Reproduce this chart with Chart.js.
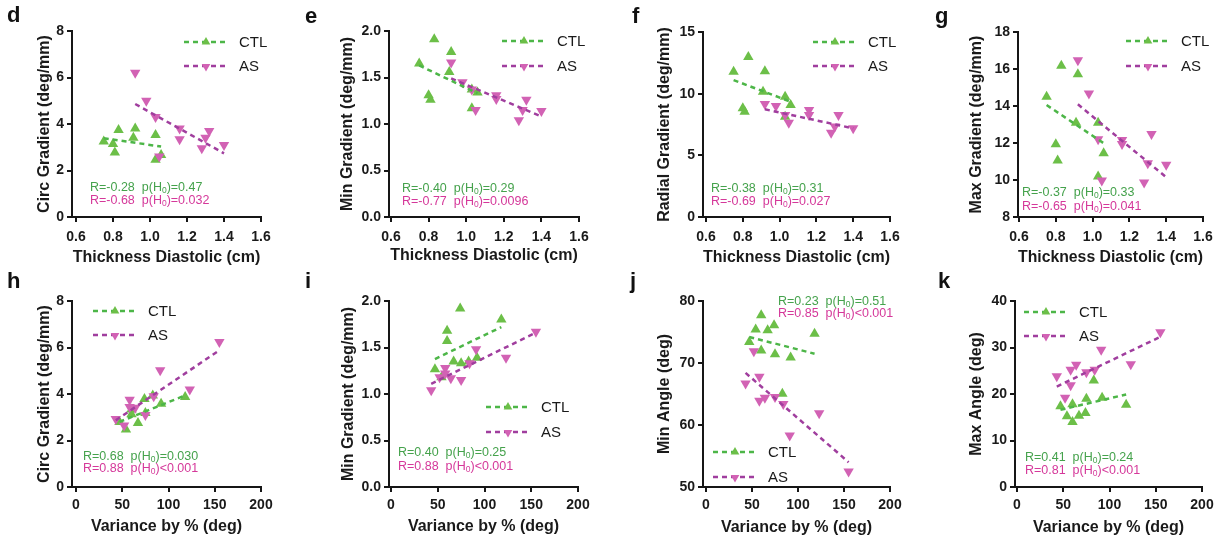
<!DOCTYPE html>
<html><head><meta charset="utf-8">
<script src="https://cdn.jsdelivr.net/npm/chart.js@4.4.1/dist/chart.umd.min.js"></script>
<style>
html,body{margin:0;padding:0;background:#fff;}
#wrap{position:relative;width:1221px;height:542px;overflow:hidden;background:#fff;}
#wrap canvas{position:absolute;}
.lbl{position:absolute;font:bold 22px "Liberation Sans",Arial,sans-serif;line-height:22px;color:#111;}
</style></head><body><div id="wrap"></div>
<script>
// ---------- tick labels ----------
const thicknessTicks = [0.6, 0.8, 1.0, 1.2, 1.4, 1.6];
const varianceTicks = [0, 50, 100, 150, 200];
const circTicks = [0, 2, 4, 6, 8];
const minGradTicks = [0, 0.5, 1.0, 1.5, 2.0];
const radialTicks = [0, 5, 10, 15];
const maxGradTicks = [8, 10, 12, 14, 16, 18];
const minAngleTicks = [50, 60, 70, 80];
const maxAngleTicks = [0, 10, 20, 30, 40];

// ---------- x values ----------
const thicknessCTL = [0.75, 0.80, 0.81, 0.83, 0.91, 0.92, 1.03, 1.03, 1.06];
const thicknessAS = [0.92, 0.98, 1.03, 1.05, 1.16, 1.16, 1.28, 1.30, 1.32, 1.40];
const varianceCTL = [47, 54, 60, 60, 67, 74, 75, 83, 92, 118];
const varianceAS = [43, 52, 58, 58, 64, 75, 84, 91, 123, 155];

// ---------- y values (top row: vs thickness) ----------
const circCTL_d = [3.25, 3.14, 2.77, 3.74, 3.41, 3.81, 3.53, 2.46, 2.67];
const circAS_d = [6.2, 5.0, 4.3, 2.6, 3.81, 3.34, 2.96, 3.41, 3.7, 3.1];
const minGradCTL_e = [1.65, 1.31, 1.26, 1.91, 1.56, 1.775, 1.37, 1.17, 1.34];
const minGradAS_e = [1.66, 1.45, 1.37, 1.15, 1.31, 1.27, 1.04, 1.15, 1.26, 1.14];
const radialCTL_f = [11.77, 8.81, 8.54, 12.98, 10.15, 11.82, 9.75, 8.13, 9.08];
const radialAS_f = [9.16, 9.0, 8.27, 7.65, 8.67, 8.27, 6.84, 7.33, 8.27, 7.19];
const maxGradCTL_g = [14.5, 11.93, 11.05, 16.17, 13.1, 15.72, 13.1, 10.19, 11.45];
const maxGradAS_g = [16.47, 14.68, 12.2, 9.97, 12.16, 11.95, 9.87, 10.9, 12.49, 10.82];

// ---------- y values (bottom row: vs variance) ----------
const circCTL_h = [2.8, 2.47, 3.33, 3.13, 2.75, 3.78, 3.18, 3.94, 3.58, 3.87];
const circAS_h = [2.92, 2.65, 3.75, 3.44, 3.41, 3.1, 3.9, 5.02, 4.19, 6.24];
const minGradCTL_i = [1.265, 1.18, 1.68, 1.57, 1.35, 1.92, 1.33, 1.35, 1.39, 1.80];
const minGradAS_i = [1.04, 1.18, 1.28, 1.22, 1.17, 1.15, 1.33, 1.48, 1.39, 1.67];
const minAngleCTL_j = [73.4, 75.4, 77.7, 72.0, 75.3, 76.1, 71.4, 65.05, 70.9, 74.7];
const minAngleAS_j = [66.7, 71.9, 67.8, 63.9, 64.4, 64.5, 63.4, 58.3, 61.9, 52.5];
const maxAngleCTL_k = [17.35, 15.2, 17.8, 14.0, 15.3, 15.9, 19.0, 22.9, 19.2, 17.7];
const maxAngleAS_k = [23.8, 19.2, 21.9, 25.2, 26.3, 24.7, 25.2, 29.5, 26.4, 33.3];

// ---------- fitted trend line end points ----------
const fitThickCTL = [0.75, 1.06];
const fitThickAS = [0.92, 1.40];
const fitVarCTL = [47, 118];
const fitVarAS = [43, 155];
const fitCTL_d = [3.39, 3.03];   const fitAS_d = [4.86, 2.74];
const fitCTL_e = [1.63, 1.33];   const fitAS_e = [1.49, 1.08];
const fitCTL_f = [11.1, 9.35];   const fitAS_f = [8.73, 7.19];
const fitCTL_g = [14.05, 11.99]; const fitAS_g = [14.09, 10.15];
const fitCTL_h = [2.8, 3.94];    const fitAS_h = [2.87, 5.88];
const fitCTL_i = [1.376, 1.72];  const fitAS_i = [1.11, 1.66];
const fitCTL_j = [74.2, 71.5];   const fitAS_j = [68.4, 54.0];
const fitCTL_k = [16.6, 19.9];   const fitAS_k = [21.6, 32.3];

// ---------- statistics text ----------
const panelLetters = ['d', 'e', 'f', 'g', 'h', 'i', 'j', 'k'];
const rCTL = [-0.28, -0.40, -0.38, -0.37, 0.68, 0.40, 0.23, 0.41];
const pCTL = ['=0.47', '=0.29', '=0.31', '=0.33', '=0.030', '=0.25', '=0.51', '=0.24'];
const rAS = [-0.68, -0.77, -0.69, -0.65, 0.88, 0.88, 0.85, 0.81];
const pAS = ['=0.032', '=0.0096', '=0.027', '=0.041', '<0.001', '<0.001', '<0.001', '<0.001'];
const seriesNames = ['CTL', 'AS'];
const xTitles = ['Thickness Diastolic (cm)', 'Variance by % (deg)'];
const yTitles = ['Circ Gradient (deg/mm)', 'Min Gradient (deg/mm)', 'Radial Gradient (deg/mm)', 'Max Gradient (deg/mm)',
                 'Circ Gradient (deg/mm)', 'Min Gradient (deg/mm)', 'Min Angle (deg)', 'Max Angle (deg)'];

const panelData = [
  {xT: thicknessTicks, yT: circTicks, cx: thicknessCTL, cy: circCTL_d, ax: thicknessAS, ay: circAS_d, fcx: fitThickCTL, fcy: fitCTL_d, fax: fitThickAS, fay: fitAS_d},
  {xT: thicknessTicks, yT: minGradTicks, cx: thicknessCTL, cy: minGradCTL_e, ax: thicknessAS, ay: minGradAS_e, fcx: fitThickCTL, fcy: fitCTL_e, fax: fitThickAS, fay: fitAS_e},
  {xT: thicknessTicks, yT: radialTicks, cx: thicknessCTL, cy: radialCTL_f, ax: thicknessAS, ay: radialAS_f, fcx: fitThickCTL, fcy: fitCTL_f, fax: fitThickAS, fay: fitAS_f},
  {xT: thicknessTicks, yT: maxGradTicks, cx: thicknessCTL, cy: maxGradCTL_g, ax: thicknessAS, ay: maxGradAS_g, fcx: fitThickCTL, fcy: fitCTL_g, fax: fitThickAS, fay: fitAS_g},
  {xT: varianceTicks, yT: circTicks, cx: varianceCTL, cy: circCTL_h, ax: varianceAS, ay: circAS_h, fcx: fitVarCTL, fcy: fitCTL_h, fax: fitVarAS, fay: fitAS_h},
  {xT: varianceTicks, yT: minGradTicks, cx: varianceCTL, cy: minGradCTL_i, ax: varianceAS, ay: minGradAS_i, fcx: fitVarCTL, fcy: fitCTL_i, fax: fitVarAS, fay: fitAS_i},
  {xT: varianceTicks, yT: minAngleTicks, cx: varianceCTL, cy: minAngleCTL_j, ax: varianceAS, ay: minAngleAS_j, fcx: fitVarCTL, fcy: fitCTL_j, fax: fitVarAS, fay: fitAS_j},
  {xT: varianceTicks, yT: maxAngleTicks, cx: varianceCTL, cy: maxAngleCTL_k, ax: varianceAS, ay: maxAngleAS_k, fcx: fitVarCTL, fcy: fitCTL_k, fax: fitVarAS, fay: fitAS_k}
];

// ---------- layout (page pixel positions) ----------
const colLeft = [0, 300, 600, 905], colW = [310, 310, 310, 316];
const rowTop = [0, 270], rowH = [270, 272];
const geom = [
  {col:0,row:0, yAx:72,   x0:76,   right:261,  top:31,  bottom:217, ytc:45,  xtc:258, xtp:7,   leg:[184,42,66],   st:[90,188,201],   let:[7,23],    yDec:0, xDec:1},
  {col:1,row:0, yAx:389,  x0:391,  right:579,  top:31,  bottom:217, ytc:348, xtc:256, xtp:7,   leg:[502,41,66],   st:[402,189,202],  let:[305,24],  yDec:1, xDec:1},
  {col:2,row:0, yAx:703,  x0:706,  right:890,  top:32,  bottom:217, ytc:665, xtc:258, xtp:7,   leg:[813,42,66],   st:[711,189,202],  let:[632,24],  yDec:0, xDec:1},
  {col:3,row:0, yAx:1018, x0:1019, right:1203, top:32,  bottom:217, ytc:977, xtc:258, xtp:7,   leg:[1126,41,66],  st:[1022,193,207], let:[935,24],  yDec:0, xDec:1},
  {col:0,row:1, yAx:72,   x0:76,   right:261,  top:301, bottom:487, ytc:45,  xtc:527, xtp:4.5, leg:[93,311,335],  st:[83,457,469],   let:[7,289],   yDec:0, xDec:0},
  {col:1,row:1, yAx:389,  x0:391,  right:578,  top:301, bottom:487, ytc:349, xtc:527, xtp:4.5, leg:[486,407,432], st:[398,453,467],  let:[305,289], yDec:1, xDec:0},
  {col:2,row:1, yAx:703,  x0:706,  right:890,  top:301, bottom:487, ytc:665, xtc:528, xtp:4.5, leg:[713,452,477], st:[778,302,314],  let:[630,289], yDec:0, xDec:0},
  {col:3,row:1, yAx:1015, x0:1017, right:1202, top:301, bottom:487, ytc:977, xtc:528, xtp:4.5, leg:[1024,312,336],st:[1025,458,471], let:[938,289], yDec:0, xDec:0}
];

const FONT = '"Liberation Sans", Arial, Helvetica, sans-serif';
const C = {
  ctlPt: '#6cbf48', asPt: '#d262b4',
  ctlLn: '#4db648', asLn: '#a03e9e',
  ctlTxt: '#45a24c', asTxt: '#d5389a',
  axis: '#161616'
};

const wrap = document.getElementById('wrap');

function drawTri(ctx, x, y, r, down, color) {
  ctx.save();
  ctx.fillStyle = color;
  ctx.beginPath();
  const s = down ? -1 : 1;
  ctx.moveTo(x, y - s * r);
  ctx.lineTo(x + r * 0.866, y + s * r * 0.5);
  ctx.lineTo(x - r * 0.866, y + s * r * 0.5);
  ctx.closePath();
  ctx.fill();
  ctx.restore();
}

function drawStatLine(ctx, x, y, color, r, p) {
  ctx.save();
  ctx.fillStyle = color;
  ctx.textBaseline = 'middle';
  ctx.textAlign = 'left';
  ctx.font = '12.5px ' + FONT;
  const a = 'R=' + r.toFixed(2) + '  p(H';
  ctx.fillText(a, x, y);
  let w = ctx.measureText(a).width;
  ctx.font = '8.5px ' + FONT;
  ctx.fillText('0', x + w, y + 3);
  w += ctx.measureText('0').width;
  ctx.font = '12.5px ' + FONT;
  ctx.fillText(')' + p, x + w, y);
  ctx.restore();
}

function buildPanel(i) {
  const g = geom[i], d = panelData[i];
  const cl = colLeft[g.col], rt = rowTop[g.row], W = colW[g.col], H = rowH[g.row];
  const cv = document.createElement('canvas');
  cv.width = W; cv.height = H;
  cv.style.left = cl + 'px'; cv.style.top = rt + 'px';
  cv.style.width = W + 'px'; cv.style.height = H + 'px';
  wrap.appendChild(cv);

  const lbl = document.createElement('div');
  lbl.className = 'lbl';
  lbl.textContent = panelLetters[i];
  lbl.style.left = g.let[0] + 'px';
  lbl.style.top = (g.let[1] - 18.6) + 'px';
  wrap.appendChild(lbl);

  const xFirst = d.xT[0], xLast = d.xT[d.xT.length - 1];
  const gapVal = (g.x0 - g.yAx) * (xLast - xFirst) / (g.right - g.x0);
  const yMin = d.yT[0], yMax = d.yT[d.yT.length - 1];
  const tickFont = {family: FONT, size: 14, weight: 'bold'};
  const titleFont = {family: FONT, size: 16, weight: 'bold'};
  const lh = 16 * 1.2;

  const pts = (xs, ys) => xs.map((x, k) => ({x: x, y: ys[k]}));

  const overlay = {
    id: 'overlay' + i,
    afterDatasetsDraw(chart) {
      const ctx = chart.ctx;
      // legend
      const lx = g.leg[0] - cl;
      [[g.leg[1], C.ctlLn, C.ctlPt, false, seriesNames[0]], [g.leg[2], C.asLn, C.asPt, true, seriesNames[1]]].forEach(it => {
        const ly = it[0] - rt;
        ctx.save();
        ctx.strokeStyle = it[1];
        ctx.lineWidth = 2.5;
        ctx.setLineDash([5, 4]);
        ctx.beginPath();
        ctx.moveTo(lx, ly); ctx.lineTo(lx + 43, ly);
        ctx.stroke();
        ctx.restore();
        drawTri(ctx, lx + 22, ly + (it[3] ? 0.5 : 0), 5, it[3], it[2]);
        ctx.save();
        ctx.fillStyle = '#1a1a1a';
        ctx.font = '15px ' + FONT;
        ctx.textBaseline = 'middle';
        ctx.textAlign = 'left';
        ctx.fillText(it[4], lx + 55, ly + 1);
        ctx.restore();
      });
      // stats
      drawStatLine(ctx, g.st[0] - cl, g.st[1] - rt, C.ctlTxt, rCTL[i], pCTL[i]);
      drawStatLine(ctx, g.st[0] - cl, g.st[2] - rt, C.asTxt, rAS[i], pAS[i]);
    }
  };

  new Chart(cv, {
    type: 'scatter',
    data: {
      datasets: [
        {data: pts(d.fcx, d.fcy), showLine: true, borderColor: C.ctlLn, borderWidth: 2.5, borderDash: [5, 4], pointRadius: 0, order: 0, clip: false},
        {data: pts(d.fax, d.fay), showLine: true, borderColor: C.asLn, borderWidth: 2.5, borderDash: [5, 4], pointRadius: 0, order: 0, clip: false},
        {data: pts(d.cx, d.cy), pointStyle: 'triangle', pointRadius: 6, backgroundColor: C.ctlPt, borderWidth: 0, order: 2, clip: false},
        {data: pts(d.ax, d.ay), pointStyle: 'triangle', rotation: 180, pointRadius: 6, backgroundColor: C.asPt, borderWidth: 0, order: 1, clip: false}
      ]
    },
    options: {
      responsive: false,
      animation: false,
      devicePixelRatio: 1,
      events: [],
      layout: {padding: {left: 0, top: g.top - rt, right: W - (g.right - cl), bottom: 0}},
      plugins: {legend: {display: false}, tooltip: {enabled: false}},
      scales: {
        x: {
          type: 'linear', min: xFirst - gapVal, max: xLast,
          afterBuildTicks: s => { s.ticks = d.xT.map(v => ({value: v})); },
          afterFit: s => { s.height = (rt + H) - g.bottom; },
          ticks: {font: tickFont, color: '#1a1a1a', padding: g.xtp, maxRotation: 0, autoSkip: false,
                  callback: v => g.xDec ? Number(v).toFixed(1) : String(v)},
          grid: {display: true, drawOnChartArea: false, drawTicks: true, tickLength: 5, color: C.axis, lineWidth: 2},
          border: {display: true, color: C.axis, width: 2},
          title: {display: true, text: xTitles[g.row], font: titleFont, color: '#1a1a1a',
                  padding: {top: 0, bottom: (rt + H - g.xtc) - lh / 2}}
        },
        y: {
          type: 'linear', min: yMin, max: yMax,
          afterBuildTicks: s => { s.ticks = d.yT.map(v => ({value: v})); },
          afterFit: s => { s.width = g.yAx - cl; },
          ticks: {font: tickFont, color: '#1a1a1a', padding: 3, autoSkip: false,
                  callback: v => g.yDec ? Number(v).toFixed(1) : String(v)},
          grid: {display: true, drawOnChartArea: false, drawTicks: true, tickLength: 5, color: C.axis, lineWidth: 2},
          border: {display: true, color: C.axis, width: 2},
          title: {display: true, text: yTitles[i], font: titleFont, color: '#1a1a1a',
                  padding: {top: (g.ytc - cl) - lh / 2, bottom: 0}}
        }
      }
    },
    plugins: [overlay]
  });
}

for (let i = 0; i < 8; i++) buildPanel(i);
</script>
</body></html>
